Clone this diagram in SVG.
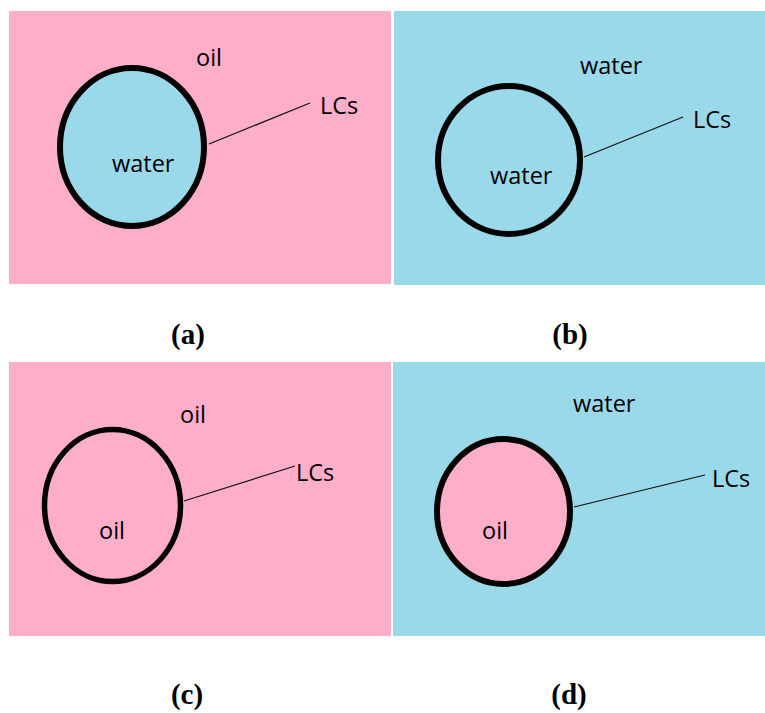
<svg xmlns="http://www.w3.org/2000/svg" width="765" height="713" viewBox="0 0 765 713">
<style>
.oil{fill:#FFAEC9}
.water{fill:#99D9EA}
.drop{stroke:#000;stroke-width:6}
.lbl{font-family:"Open Sans","Noto Sans",sans-serif;font-size:23.5px;fill:#000}
.cap{font-family:"Liberation Serif","Times New Roman",serif;font-weight:bold;font-size:29px;fill:#000;text-anchor:middle}
.lead{stroke:#111;stroke-width:1.2;fill:none}
</style>
<rect x="0" y="0" width="765" height="713" fill="#fff"/>
<g id="panel-a">
<rect class="oil" x="9" y="11" width="382" height="273"/>
<ellipse class="water drop" cx="132" cy="147" rx="72" ry="79"/>
<text class="lbl" x="196" y="66">oil</text>
<text class="lbl" x="112" y="172">water</text>
<text class="lbl" x="320" y="114">LCs</text>
<text class="cap" x="188" y="344">(a)</text>
</g>
<g id="panel-b">
<rect class="water" x="394" y="11" width="371" height="274"/>
<ellipse class="water drop" cx="509" cy="160" rx="71" ry="74"/>
<text class="lbl" x="580" y="74">water</text>
<text class="lbl" x="490" y="184">water</text>
<text class="lbl" x="693" y="128">LCs</text>
<text class="cap" x="570" y="344">(b)</text>
</g>
<g id="panel-c">
<rect class="oil" x="9" y="362" width="382" height="274"/>
<ellipse class="oil drop" cx="112.5" cy="505.5" rx="68" ry="76" style="stroke-width:5.5"/>
<text class="lbl" x="180" y="423">oil</text>
<text class="lbl" x="99" y="539">oil</text>
<text class="lbl" x="296" y="481">LCs</text>
<text class="cap" x="187" y="704">(c)</text>
</g>
<g id="panel-d">
<rect class="water" x="393" y="362" width="372" height="274"/>
<ellipse class="oil drop" cx="503.5" cy="511.5" rx="66.5" ry="72.5"/>
<text class="lbl" x="573" y="412">water</text>
<text class="lbl" x="482" y="539">oil</text>
<text class="lbl" x="712" y="487">LCs</text>
<text class="cap" x="569" y="704">(d)</text>
</g>
<g id="connectors">
<line class="lead" x1="209" y1="144" x2="310" y2="103"/>
<line class="lead" x1="584" y1="157" x2="683" y2="117"/>
<line class="lead" x1="184" y1="501" x2="295" y2="466"/>
<line class="lead" x1="574" y1="507" x2="705" y2="475"/>
</g>
</svg>
